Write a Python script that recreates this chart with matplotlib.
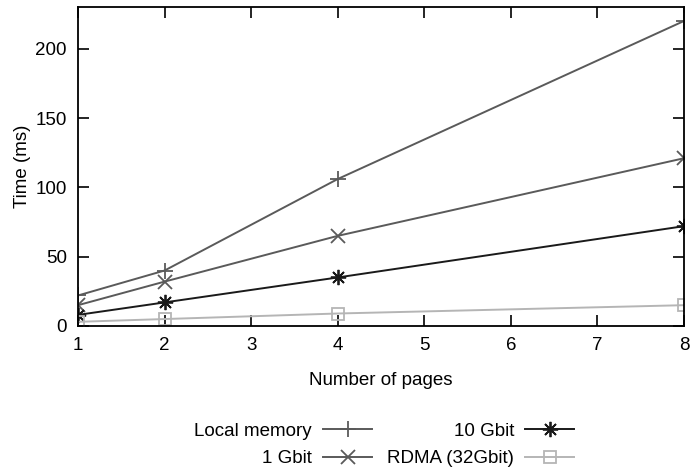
import matplotlib
matplotlib.use("Agg")
import matplotlib.pyplot as plt

plt.rcParams['font.family'] = ['Liberation Sans', 'DejaVu Sans']

pages = [1, 2, 4, 8]
local_memory = [22, 40, 106, 220]
gbit1 = [15, 32, 65, 121]
gbit10 = [8, 17, 35, 72]
rdma = [3, 5, 9, 15]

fig = plt.figure(figsize=(6.91, 4.71), dpi=100)
ax = fig.add_axes([0.1129, 0.3079, 0.877, 0.677])

l1, = ax.plot(pages, local_memory, color='#5a5a5a', marker='+', markersize=11, lw=1.4, mew=1.3, label='Local memory')
l2, = ax.plot(pages, gbit1, color='#5a5a5a', marker='x', markersize=10, lw=1.4, mew=1.3, label='1 Gbit')
l3, = ax.plot(pages, gbit10, color='#1a1a1a', marker=(8, 2, 0), markersize=11, lw=1.4, mew=1.3, label='10 Gbit')
l4, = ax.plot(pages, rdma, color='#b5b5b5', marker='s', markersize=9, mfc='none', lw=1.4, mew=1.3, label='RDMA (32Gbit)')

ax.set_xlim(1, 8)
ax.set_ylim(0, 230)
ax.set_xticks(range(1, 9))
ax.set_yticks([0, 50, 100, 150, 200])
ax.tick_params(direction='in', top=True, right=True, length=8, width=1.2, labelsize=13.5, pad=8)
for s in ax.spines.values():
    s.set_linewidth(1.3)
ax.set_xlabel('Number of pages', fontsize=13.5, labelpad=13)
ax.set_ylabel('Time (ms)', fontsize=13.5, labelpad=3)

fig.legend(handles=[l1, l2, l3, l4], ncol=2, markerfirst=False, frameon=False,
           loc='center', bbox_to_anchor=(0.556, 0.055), fontsize=13.5,
           handlelength=2.6, columnspacing=0.8, labelspacing=0.55, handletextpad=0.6)

fig.savefig('out.png', dpi=100)
